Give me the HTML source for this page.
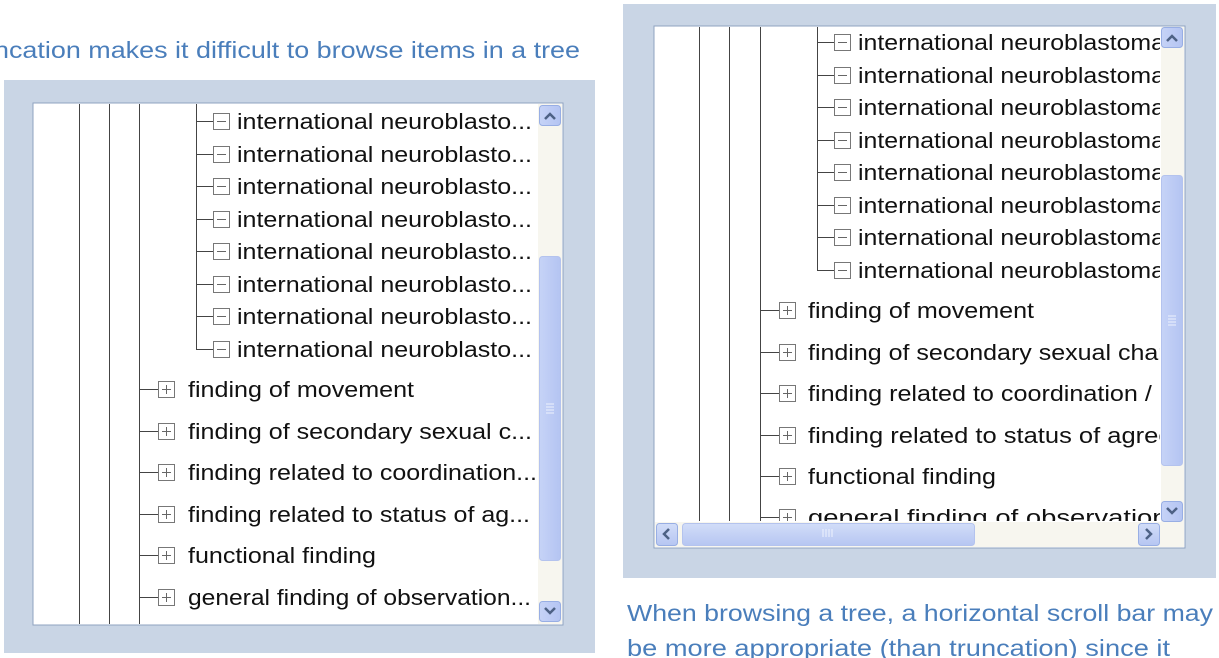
<!DOCTYPE html>
<html><head><meta charset="utf-8"><style>
html,body{margin:0;padding:0;background:#fff;width:1219px;height:658px;overflow:hidden}
svg{display:block}
text{font-family:"Liberation Sans",sans-serif}
.t{font-size:22px;fill:#111}
.c{font-family:"Liberation Sans",sans-serif;font-size:23px;fill:#4a7ebb}
.l{stroke:#444;stroke-width:1}
.g{stroke:#777;stroke-width:1;fill:#fff}
</style></head><body>
<svg width="1219" height="658" xmlns="http://www.w3.org/2000/svg">
<defs>
<clipPath id="cr"><rect x="655" y="27" width="505" height="494"/></clipPath>
<clipPath id="cl"><rect x="34" y="104" width="503" height="520"/></clipPath>
<linearGradient id="th" x1="0" x2="1"><stop offset="0" stop-color="#c6d3f7"/><stop offset="1" stop-color="#b4c4f2"/></linearGradient>
<linearGradient id="thh" x1="0" y1="0" x2="0" y2="1"><stop offset="0" stop-color="#d2ddf8"/><stop offset="1" stop-color="#b6c6f2"/></linearGradient>
</defs>
<text class="c" x="-6" y="58" textLength="586" lengthAdjust="spacingAndGlyphs">ncation makes it difficult to browse items in a tree</text>
<!-- left panel -->
<rect x="4" y="80" width="591" height="573" fill="#c9d5e5"/>
<rect x="33" y="103" width="530" height="522" fill="#fff" stroke="#8fa3c0"/>
<g clip-path="url(#cl)">
<line class="l" x1="79.5" y1="103" x2="79.5" y2="625"/>
<line class="l" x1="109.5" y1="103" x2="109.5" y2="625"/>
<line class="l" x1="139.5" y1="103" x2="139.5" y2="625"/>
<line class="l" x1="196.5" y1="103" x2="196.5" y2="349"/>
<g class="l">
<line x1="196" y1="121.5" x2="213" y2="121.5"/><line x1="196" y1="154.5" x2="213" y2="154.5"/><line x1="196" y1="186.5" x2="213" y2="186.5"/><line x1="196" y1="219.5" x2="213" y2="219.5"/><line x1="196" y1="251.5" x2="213" y2="251.5"/><line x1="196" y1="284.5" x2="213" y2="284.5"/><line x1="196" y1="316.5" x2="213" y2="316.5"/><line x1="196" y1="349.5" x2="213" y2="349.5"/>
<line x1="139" y1="389.5" x2="158" y2="389.5"/><line x1="139" y1="431.5" x2="158" y2="431.5"/><line x1="139" y1="472.5" x2="158" y2="472.5"/><line x1="139" y1="514.5" x2="158" y2="514.5"/><line x1="139" y1="555.5" x2="158" y2="555.5"/><line x1="139" y1="597.5" x2="158" y2="597.5"/>
</g>
<g class="g">
<rect x="213.5" y="113.5" width="16" height="16"/><rect x="213.5" y="146.5" width="16" height="16"/><rect x="213.5" y="178.5" width="16" height="16"/><rect x="213.5" y="211.5" width="16" height="16"/><rect x="213.5" y="243.5" width="16" height="16"/><rect x="213.5" y="276.5" width="16" height="16"/><rect x="213.5" y="308.5" width="16" height="16"/><rect x="213.5" y="341.5" width="16" height="16"/>
<rect x="158.5" y="381.5" width="16" height="16"/><rect x="158.5" y="423.5" width="16" height="16"/><rect x="158.5" y="464.5" width="16" height="16"/><rect x="158.5" y="506.5" width="16" height="16"/><rect x="158.5" y="547.5" width="16" height="16"/><rect x="158.5" y="589.5" width="16" height="16"/>
</g>
<g stroke="#666">
<line x1="217" y1="121.5" x2="226" y2="121.5"/><line x1="217" y1="154.5" x2="226" y2="154.5"/><line x1="217" y1="186.5" x2="226" y2="186.5"/><line x1="217" y1="219.5" x2="226" y2="219.5"/><line x1="217" y1="251.5" x2="226" y2="251.5"/><line x1="217" y1="284.5" x2="226" y2="284.5"/><line x1="217" y1="316.5" x2="226" y2="316.5"/><line x1="217" y1="349.5" x2="226" y2="349.5"/>
<path d="M162 389.5h9M166.5 385v9M162 431.5h9M166.5 427v9M162 472.5h9M166.5 468v9M162 514.5h9M166.5 510v9M162 555.5h9M166.5 551v9M162 597.5h9M166.5 593v9"/>
</g>
<g class="t">
<text x="237" y="129" textLength="295" lengthAdjust="spacingAndGlyphs">international neuroblasto...</text>
<text x="237" y="162" textLength="295" lengthAdjust="spacingAndGlyphs">international neuroblasto...</text>
<text x="237" y="194" textLength="295" lengthAdjust="spacingAndGlyphs">international neuroblasto...</text>
<text x="237" y="227" textLength="295" lengthAdjust="spacingAndGlyphs">international neuroblasto...</text>
<text x="237" y="259" textLength="295" lengthAdjust="spacingAndGlyphs">international neuroblasto...</text>
<text x="237" y="292" textLength="295" lengthAdjust="spacingAndGlyphs">international neuroblasto...</text>
<text x="237" y="324" textLength="295" lengthAdjust="spacingAndGlyphs">international neuroblasto...</text>
<text x="237" y="357" textLength="295" lengthAdjust="spacingAndGlyphs">international neuroblasto...</text>
<text x="188" y="397" textLength="226" lengthAdjust="spacingAndGlyphs">finding of movement</text>
<text x="188" y="439" textLength="344" lengthAdjust="spacingAndGlyphs">finding of secondary sexual c...</text>
<text x="188" y="480" textLength="349" lengthAdjust="spacingAndGlyphs">finding related to coordination...</text>
<text x="188" y="522" textLength="342" lengthAdjust="spacingAndGlyphs">finding related to status of ag...</text>
<text x="188" y="563" textLength="188" lengthAdjust="spacingAndGlyphs">functional finding</text>
<text x="188" y="605" textLength="343" lengthAdjust="spacingAndGlyphs">general finding of observation...</text>
</g>
</g>
<!-- left vscroll -->
<rect x="538" y="104" width="24" height="520" fill="#f7f6ef"/>
<rect x="539.5" y="105.5" width="21" height="20" rx="3" fill="url(#th)" stroke="#98aee4"/>
<path d="M545 119l5-5 5 5" stroke="#4d6185" stroke-width="2.5" fill="none"/>
<rect x="539.5" y="256.5" width="21" height="304" rx="3" fill="url(#th)" stroke="#b4c3ee"/>
<path d="M546 404h8M546 407h8M546 410h8M546 413h8" stroke="#eef2fd"/>
<rect x="539.5" y="601.5" width="21" height="20" rx="3" fill="url(#th)" stroke="#98aee4"/>
<path d="M545 608l5 5 5-5" stroke="#4d6185" stroke-width="2.5" fill="none"/>

<!-- right panel -->
<rect x="623" y="4" width="593" height="574" fill="#c9d5e5"/>
<rect x="654" y="26" width="531" height="522" fill="#fff" stroke="#8fa3c0"/>
<g clip-path="url(#cr)">
<line class="l" x1="699.5" y1="26" x2="699.5" y2="521"/>
<line class="l" x1="729.5" y1="26" x2="729.5" y2="521"/>
<line class="l" x1="760.5" y1="26" x2="760.5" y2="521"/>
<line class="l" x1="817.5" y1="26" x2="817.5" y2="270"/>
<g class="l">
<line x1="817" y1="42.5" x2="834" y2="42.5"/><line x1="817" y1="75.5" x2="834" y2="75.5"/><line x1="817" y1="107.5" x2="834" y2="107.5"/><line x1="817" y1="140.5" x2="834" y2="140.5"/><line x1="817" y1="172.5" x2="834" y2="172.5"/><line x1="817" y1="205.5" x2="834" y2="205.5"/><line x1="817" y1="237.5" x2="834" y2="237.5"/><line x1="817" y1="270.5" x2="834" y2="270.5"/>
<line x1="760" y1="310.5" x2="779" y2="310.5"/><line x1="760" y1="352.5" x2="779" y2="352.5"/><line x1="760" y1="393.5" x2="779" y2="393.5"/><line x1="760" y1="435.5" x2="779" y2="435.5"/><line x1="760" y1="476.5" x2="779" y2="476.5"/><line x1="760" y1="517.5" x2="779" y2="517.5"/>
</g>
<g class="g">
<rect x="834.5" y="34.5" width="16" height="16"/><rect x="834.5" y="67.5" width="16" height="16"/><rect x="834.5" y="99.5" width="16" height="16"/><rect x="834.5" y="132.5" width="16" height="16"/><rect x="834.5" y="164.5" width="16" height="16"/><rect x="834.5" y="197.5" width="16" height="16"/><rect x="834.5" y="229.5" width="16" height="16"/><rect x="834.5" y="262.5" width="16" height="16"/>
<rect x="779.5" y="302.5" width="16" height="16"/><rect x="779.5" y="344.5" width="16" height="16"/><rect x="779.5" y="385.5" width="16" height="16"/><rect x="779.5" y="427.5" width="16" height="16"/><rect x="779.5" y="468.5" width="16" height="16"/><rect x="779.5" y="509.5" width="16" height="16"/>
</g>
<g stroke="#666">
<path d="M838 42.5h9M838 75.5h9M838 107.5h9M838 140.5h9M838 172.5h9M838 205.5h9M838 237.5h9M838 270.5h9"/>
<path d="M783 310.5h9M787.5 306v9M783 352.5h9M787.5 348v9M783 393.5h9M787.5 389v9M783 435.5h9M787.5 431v9M783 476.5h9M787.5 472v9M783 517.5h9M787.5 513v9"/>
</g>
<g class="t">
<text x="858" y="50" textLength="307" lengthAdjust="spacingAndGlyphs">international neuroblastoma</text>
<text x="858" y="83" textLength="307" lengthAdjust="spacingAndGlyphs">international neuroblastoma</text>
<text x="858" y="115" textLength="307" lengthAdjust="spacingAndGlyphs">international neuroblastoma</text>
<text x="858" y="148" textLength="307" lengthAdjust="spacingAndGlyphs">international neuroblastoma</text>
<text x="858" y="180" textLength="307" lengthAdjust="spacingAndGlyphs">international neuroblastoma</text>
<text x="858" y="213" textLength="307" lengthAdjust="spacingAndGlyphs">international neuroblastoma</text>
<text x="858" y="245" textLength="307" lengthAdjust="spacingAndGlyphs">international neuroblastoma</text>
<text x="858" y="278" textLength="307" lengthAdjust="spacingAndGlyphs">international neuroblastoma</text>
<text x="808" y="318" textLength="226" lengthAdjust="spacingAndGlyphs">finding of movement</text>
<text x="808" y="360" textLength="385" lengthAdjust="spacingAndGlyphs">finding of secondary sexual charac</text>
<text x="808" y="401" textLength="383" lengthAdjust="spacingAndGlyphs">finding related to coordination / inc</text>
<text x="808" y="443" textLength="400" lengthAdjust="spacingAndGlyphs">finding related to status of agreeme</text>
<text x="808" y="484" textLength="188" lengthAdjust="spacingAndGlyphs">functional finding</text>
<text x="808" y="525" textLength="390" lengthAdjust="spacingAndGlyphs">general finding of observation of</text>
</g>
</g>
<!-- right vscroll -->
<rect x="1161" y="27" width="23" height="495" fill="#f7f6ef"/>
<rect x="1161.5" y="27.5" width="21" height="20" rx="3" fill="url(#th)" stroke="#98aee4"/>
<path d="M1167 41l5-5 5 5" stroke="#4d6185" stroke-width="2.5" fill="none"/>
<rect x="1161.5" y="175.5" width="21" height="290" rx="3" fill="url(#th)" stroke="#b4c3ee"/>
<path d="M1168 316h8M1168 319h8M1168 322h8M1168 325h8" stroke="#eef2fd"/>
<rect x="1161.5" y="501.5" width="21" height="20" rx="3" fill="url(#th)" stroke="#98aee4"/>
<path d="M1167 508l5 5 5-5" stroke="#4d6185" stroke-width="2.5" fill="none"/>
<!-- right hscroll -->
<rect x="655" y="522" width="529" height="25" fill="#f7f6ef"/>
<rect x="656.5" y="523.5" width="21" height="22" rx="3" fill="url(#thh)" stroke="#98aee4"/>
<path d="M669 529l-5 5 5 5" stroke="#4d6185" stroke-width="2.5" fill="none"/>
<rect x="682.5" y="523.5" width="292" height="22" rx="3" fill="url(#thh)" stroke="#b4c3ee"/>
<path d="M823 529v8M826 529v8M829 529v8M832 529v8" stroke="#eef2fd"/>
<rect x="1138.5" y="523.5" width="21" height="22" rx="3" fill="url(#thh)" stroke="#98aee4"/>
<path d="M1146 529l5 5-5 5" stroke="#4d6185" stroke-width="2.5" fill="none"/>
<text class="c" x="627" y="621" textLength="586" lengthAdjust="spacingAndGlyphs">When browsing a tree, a horizontal scroll bar may</text>
<text class="c" x="627" y="656" textLength="543" lengthAdjust="spacingAndGlyphs">be more appropriate (than truncation) since it</text>
</svg>
</body></html>
